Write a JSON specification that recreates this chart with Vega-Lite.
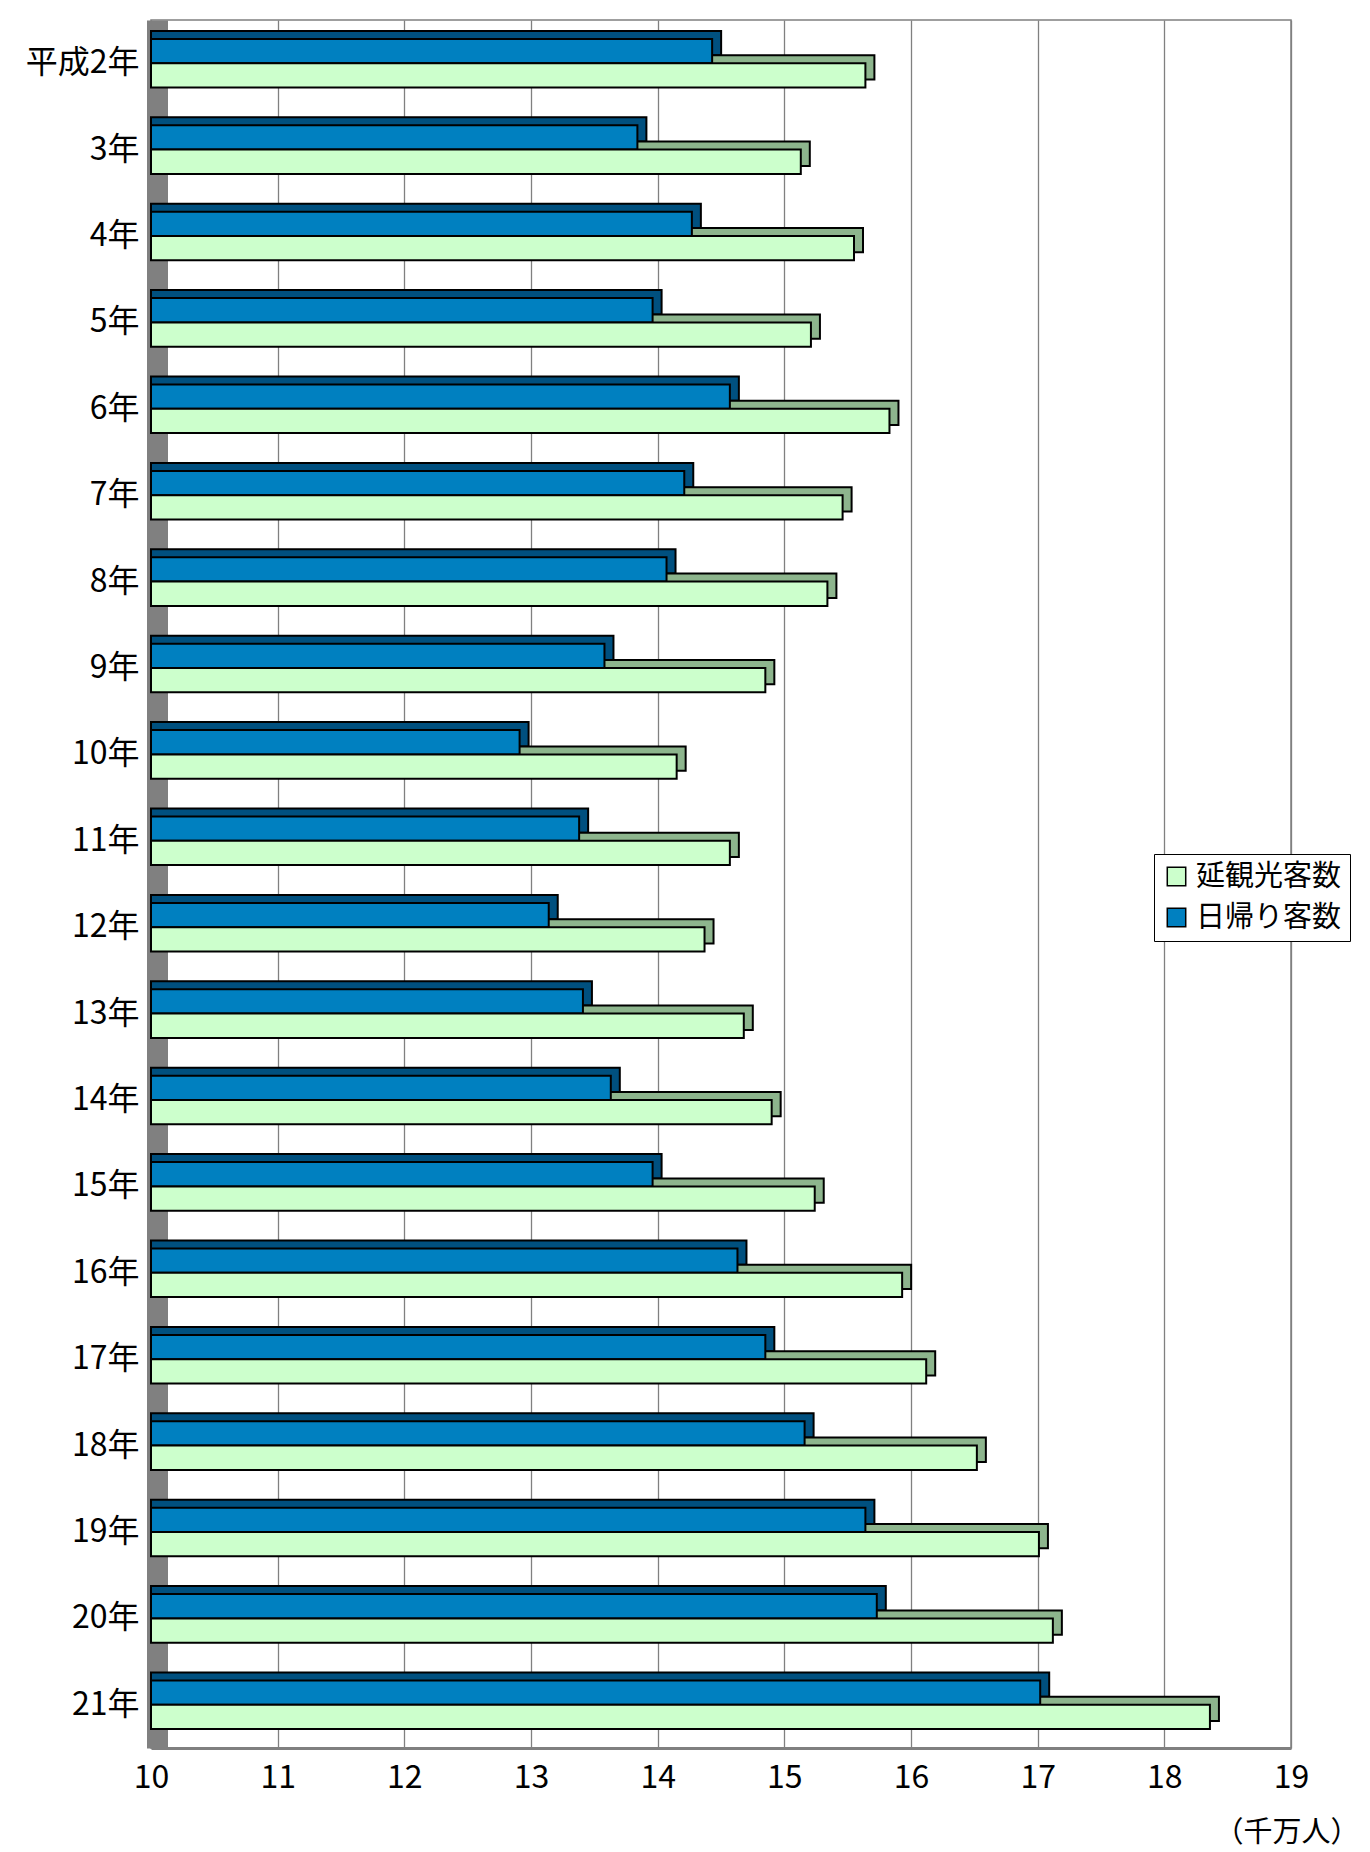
{
  "$schema": "https://vega.github.io/schema/vega-lite/v6.json",
  "width": 1140,
  "height": 1728,
  "autosize": {"type": "none"},
  "padding": {"left": 151, "top": 20, "right": 79, "bottom": 104},
  "background": "white",
  "config": {
    "font": "Noto Sans CJK JP",
    "view": {"stroke": "#808080", "strokeWidth": 1.5}
  },
  "data": {
    "values": [
      {"year": "平成2年", "series": "日帰り客数", "value": 14.43},
      {"year": "平成2年", "series": "延観光客数", "value": 15.64},
      {"year": "3年", "series": "日帰り客数", "value": 13.84},
      {"year": "3年", "series": "延観光客数", "value": 15.13},
      {"year": "4年", "series": "日帰り客数", "value": 14.27},
      {"year": "4年", "series": "延観光客数", "value": 15.55},
      {"year": "5年", "series": "日帰り客数", "value": 13.96},
      {"year": "5年", "series": "延観光客数", "value": 15.21},
      {"year": "6年", "series": "日帰り客数", "value": 14.57},
      {"year": "6年", "series": "延観光客数", "value": 15.83},
      {"year": "7年", "series": "日帰り客数", "value": 14.21},
      {"year": "7年", "series": "延観光客数", "value": 15.46},
      {"year": "8年", "series": "日帰り客数", "value": 14.07},
      {"year": "8年", "series": "延観光客数", "value": 15.34},
      {"year": "9年", "series": "日帰り客数", "value": 13.58},
      {"year": "9年", "series": "延観光客数", "value": 14.85},
      {"year": "10年", "series": "日帰り客数", "value": 12.91},
      {"year": "10年", "series": "延観光客数", "value": 14.15},
      {"year": "11年", "series": "日帰り客数", "value": 13.38},
      {"year": "11年", "series": "延観光客数", "value": 14.57},
      {"year": "12年", "series": "日帰り客数", "value": 13.14},
      {"year": "12年", "series": "延観光客数", "value": 14.37},
      {"year": "13年", "series": "日帰り客数", "value": 13.41},
      {"year": "13年", "series": "延観光客数", "value": 14.68},
      {"year": "14年", "series": "日帰り客数", "value": 13.63},
      {"year": "14年", "series": "延観光客数", "value": 14.90},
      {"year": "15年", "series": "日帰り客数", "value": 13.96},
      {"year": "15年", "series": "延観光客数", "value": 15.24},
      {"year": "16年", "series": "日帰り客数", "value": 14.63},
      {"year": "16年", "series": "延観光客数", "value": 15.93},
      {"year": "17年", "series": "日帰り客数", "value": 14.85},
      {"year": "17年", "series": "延観光客数", "value": 16.12},
      {"year": "18年", "series": "日帰り客数", "value": 15.16},
      {"year": "18年", "series": "延観光客数", "value": 16.52},
      {"year": "19年", "series": "日帰り客数", "value": 15.64},
      {"year": "19年", "series": "延観光客数", "value": 17.01},
      {"year": "20年", "series": "日帰り客数", "value": 15.73},
      {"year": "20年", "series": "延観光客数", "value": 17.12},
      {"year": "21年", "series": "日帰り客数", "value": 17.02},
      {"year": "21年", "series": "延観光客数", "value": 18.36}
    ]
  },
  "encoding": {
    "y": {
      "field": "year",
      "type": "nominal",
      "sort": null,
      "scale": {"paddingInner": 0.4375, "paddingOuter": 0.21875},
      "axis": {
        "title": null,
        "labelFontSize": 32,
        "labelColor": "black",
        "ticks": false,
        "tickSize": 0,
        "labelPadding": 18,
        "domainColor": "#808080",
        "domainWidth": 21,
        "offset": -6,
        "grid": false
      }
    },
    "x": {
      "field": "value",
      "type": "quantitative",
      "scale": {"domain": [10, 19], "nice": false, "zero": false},
      "axis": {
        "title": "（千万人）",
        "values": [10, 11, 12, 13, 14, 15, 16, 17, 18, 19],
        "grid": true,
        "gridColor": "#808080",
        "gridWidth": 1.3,
        "labelFontSize": 32,
        "labelColor": "black",
        "labelFlush": false,
        "ticks": false,
        "tickSize": 0,
        "labelPadding": 14,
        "domainColor": "#808080",
        "domainWidth": 3,
        "titleFontSize": 29,
        "titleFontWeight": "normal",
        "titleColor": "black",
        "titleX": 1208,
        "titleY": 84,
        "titleAlign": "right",
        "titleBaseline": "middle"
      }
    },
    "x2": {"datum": 10}
  },
  "layer": [
    {
      "mark": {"type": "bar", "xOffset": 9, "stroke": "black", "strokeWidth": 2},
      "encoding": {
        "yOffset": {
          "field": "series",
          "type": "nominal",
          "scale": {"domain": ["日帰り客数", "延観光客数"], "range": [-8, 40.6]}
        },
        "color": {
          "condition": {"test": "datum.series === '日帰り客数'", "value": "#00507F"},
          "value": "#8DB58D"
        }
      }
    },
    {
      "mark": {"type": "bar", "stroke": "black", "strokeWidth": 2},
      "encoding": {
        "yOffset": {
          "field": "series",
          "type": "nominal",
          "scale": {"domain": ["日帰り客数", "延観光客数"]}
        },
        "color": {
          "field": "series",
          "type": "nominal",
          "scale": {"domain": ["延観光客数", "日帰り客数"], "range": ["#CCFFCC", "#0080C0"]},
          "legend": {
            "title": null,
            "orient": "none",
            "legendX": 1003,
            "legendY": 834,
            "labelFontSize": 29,
            "labelColor": "black",
            "symbolType": "square",
            "symbolSize": 340,
            "symbolStrokeColor": "black",
            "symbolStrokeWidth": 1.5,
            "strokeColor": "black",
            "fillColor": "white",
            "padding": 8,
            "rowPadding": 11,
            "labelOffset": 5
          }
        }
      }
    }
  ],
  "resolve": {"scale": {"yOffset": "independent"}}
}
